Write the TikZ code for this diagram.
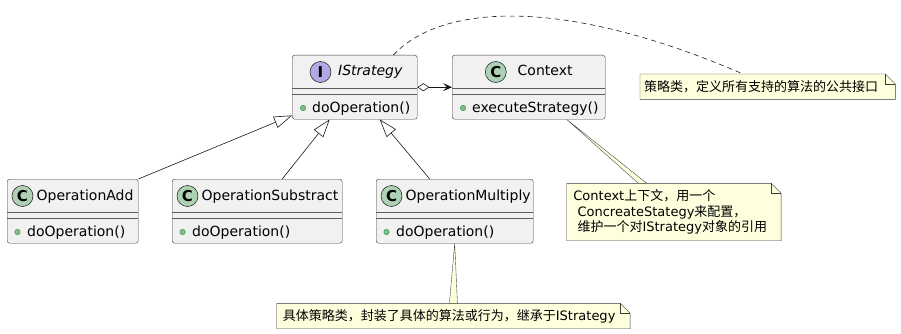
\documentclass[tikz,border=0pt]{standalone}
\usepackage{fontspec}
\setmainfont{DejaVu Sans}
\newfontfamily\cjk{Noto Sans CJK SC}
\usepackage{xcolor}
\usepackage{tikz}
\usetikzlibrary{arrows.meta, positioning, calc}

\definecolor{classbg}{HTML}{F1F1F1}
\definecolor{lineclr}{HTML}{181818}
\definecolor{cspot}{HTML}{ADD1B2}
\definecolor{ispot}{HTML}{B4A7E5}
\definecolor{notebg}{HTML}{FEFFDD}
\definecolor{dotfill}{HTML}{84BE84}
\definecolor{dotline}{HTML}{038048}

\begin{document}
\begin{tikzpicture}[x=1pt, y=-1pt,
    cls/.style={rectangle, draw=lineclr!85, fill=classbg, line width=0.4pt, rounded corners=2.5pt, anchor=north west, minimum height=64pt, inner sep=0pt},
    spot/.style={circle, draw=lineclr, line width=0.5pt, minimum size=21pt, inner sep=0pt, font=\fontsize{15}{15}\selectfont\bfseries},
    cname/.style={anchor=base west, inner sep=0pt, font=\fontsize{14}{16}\selectfont},
    meth/.style={anchor=base west, inner sep=0pt, font=\fontsize{14}{16}\selectfont},
    pub/.style={circle, draw=dotline, fill=dotfill, line width=0.3pt, minimum size=5.5pt, inner sep=0pt},
    divider/.style={draw=lineclr!70, line width=0.35pt},
    notebox/.style={rectangle, anchor=north west, inner sep=0pt},
    notetxt/.style={anchor=west, inner sep=0pt, align=left, font=\fontsize{13}{15.3}\selectfont},
    notefill/.style={draw=lineclr!85, fill=notebg, line width=0.4pt},
    inherit/.style={draw=lineclr, line width=0.6pt, -{Triangle[open, length=18pt, width=12pt]}},
    agg/.style={draw=lineclr, line width=0.6pt, {Diamond[open, length=12pt, width=8pt]}-{Stealth[length=9pt, width=8pt, inset=4pt]}},
    link/.style={draw=lineclr, line width=0.6pt, dash pattern=on 5pt off 4pt}
]
\useasboundingbox (0,0) rectangle (901,334);

% Strategy interface
\node[cls, minimum width=125pt] (is) at (292,55) {};
\node[spot, fill=ispot] (is-s) at ([shift={(28.5,17)}]is.north west) {I};
\node[cname, font=\fontsize{14}{16}\selectfont\itshape] (is-n) at ([shift={(46,21)}]is.north west) {IStrategy};
\draw[divider] ([yshift=-33pt]is.north west) -- ([yshift=-33pt]is.north east);
\draw[divider] ([yshift=-39pt]is.north west) -- ([yshift=-39pt]is.north east);
\node[pub] (is-d) at ([shift={(11,53)}]is.north west) {};
\node[meth] (is-m) at ([shift={(20,57.5)}]is.north west) {doOperation()};

% Context class
\node[cls, minimum width=153pt] (ctx) at (452,55) {};
\node[spot, fill=cspot] (ctx-s) at ([shift={(43.8,17)}]ctx.north west) {C};
\node[cname] (ctx-n) at ([shift={(65.5,21)}]ctx.north west) {Context};
\draw[divider] ([yshift=-33pt]ctx.north west) -- ([yshift=-33pt]ctx.north east);
\draw[divider] ([yshift=-39pt]ctx.north west) -- ([yshift=-39pt]ctx.north east);
\node[pub] (ctx-d) at ([shift={(11,53)}]ctx.north west) {};
\node[meth] (ctx-m) at ([shift={(20,57.5)}]ctx.north west) {executeStrategy()};

% Concrete strategies
\foreach \nm/\x/\w/\lbl in {opadd/7/131/OperationAdd, opsub/172/170/OperationSubstract, opmul/376/157/OperationMultiply} {
    \node[cls, minimum width=\w pt] (\nm) at (\x,179) {};
    \node[spot, fill=cspot] (\nm-s) at ([shift={(15.5,17)}]\nm.north west) {C};
    \node[cname] (\nm-n) at ([shift={(29.5,21)}]\nm.north west) {\lbl};
    \draw[divider] ([yshift=-33pt]\nm.north west) -- ([yshift=-33pt]\nm.north east);
    \draw[divider] ([yshift=-39pt]\nm.north west) -- ([yshift=-39pt]\nm.north east);
    \node[pub] (\nm-d) at ([shift={(10.5,53)}]\nm.north west) {};
    \node[meth] (\nm-m) at ([shift={(20,57)}]\nm.north west) {doOperation()};
}

% Relations
\draw[agg] (is.east) -- (ctx.west);
\draw[inherit] (opadd.north east) -- ([yshift=4pt]is.south west);
\draw[inherit] ([xshift=25pt]opsub.north) -- ([xshift=-25pt]is.south);
\draw[inherit] ([xshift=-25pt]opmul.north) -- ([xshift=25pt]is.south);

% Notes
\node[notebox, minimum width=255pt, minimum height=25pt] (n1) at (640,74) {};
\node[notebox, minimum width=214pt, minimum height=57pt] (n2) at (566.7,183.3) {};
\node[notebox, minimum width=353pt, minimum height=25pt] (n3) at (276.7,303.3) {};

\draw[link] ([xshift=-24pt]is.north east) .. controls (440,5) and (560,-5) .. ([xshift=103pt]n1.north west);
\filldraw[notefill, line width=0.35pt] ([xshift=38pt]ctx.south) -- ([xshift=71.6pt]n2.north west) -- ([xshift=80pt]n2.north west) -- cycle;
\filldraw[notefill, line width=0.35pt] (opmul.south) -- ([xshift=-4pt]n3.north) -- ([xshift=4pt]n3.north) -- cycle;

\foreach \n in {n1,n2,n3} {
    \filldraw[notefill] (\n.south west) -- (\n.north west) -- ([xshift=-10pt]\n.north east) -- ([yshift=-10pt]\n.north east) -- (\n.south east) -- cycle;
    \draw[notefill, fill=none] ([xshift=-10pt]\n.north east) |- ([yshift=-10pt]\n.north east);
}

\node[notetxt] (n1-t) at ([xshift=4pt]n1.west) {{\cjk 策略类，定义所有支持的算法的公共接口}};
\node[notetxt] (n2-t) at ([xshift=6.5pt]n2.west) {Context{\cjk 上下文，用一个}\\\ ConcreateStategy{\cjk 来配置，}\\\ {\cjk 维护一个对}IStrategy{\cjk 对象的引用}};
\node[notetxt] (n3-t) at ([xshift=6pt]n3.west) {{\cjk 具体策略类，封装了具体的算法或行为，继承于}IStrategy};
\end{tikzpicture}
\end{document}
